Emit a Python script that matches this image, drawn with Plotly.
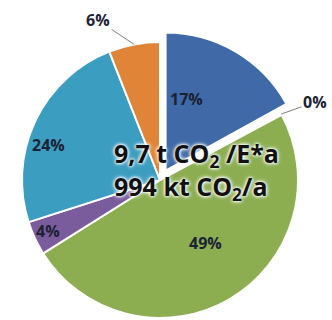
import math
import plotly.graph_objects as go

# ---- data ----
labels = ["Sektor 1", "Sektor 2", "Sektor 3", "Sektor 4", "Sektor 5", "Sektor 6"]
values = [17, 0.2, 49, 4, 24, 6]
colors = ["#3f6aa7", "#c0504d", "#8cae51", "#7a5c9c", "#3b9dc0", "#e08538"]
center_lines = ["9,7 t CO<sub>2</sub> /E*a", "994 kt CO<sub>2</sub>/a"]

# ---- layout constants ----
W, H = 332, 320
CX, CY, R = 160, 180, 138
PULL_PX = 11
pulled = 0                 # index of exploded slice
# inside label placement: index -> (angle shift in degrees, radius fraction)
inside = {0: (-14.5, 0.54), 2: (-5.5, 0.56), 3: (0.5, 0.89), 4: (-8, 0.85)}
# outside labels: index -> text offset (px) from slice edge
outside = {5: (-36, -24), 1: (34, -12)}
LABEL_COLOR = "#1b2233"
FONT = "Open Sans"

total = sum(values)
transparent = "rgba(0,0,0,0)"


def dom(cx, cy):
    return dict(x=[(cx - R) / W, (cx + R) / W], y=[1 - (cy + R) / H, 1 - (cy - R) / H])


def mid_angle(i):
    start = sum(values[:i]) / total * 360
    return math.radians(start + values[i] / total * 180)


def pct(i):
    return f"{round(values[i] / total * 100)}%"


t1_colors = [transparent if i == pulled else c for i, c in enumerate(colors)]
t2_colors = [c if i == pulled else transparent for i, c in enumerate(colors)]
t2_lw = [2 if i == pulled else 0 for i in range(len(values))]

a = mid_angle(pulled)
pcx = CX + PULL_PX * math.sin(a)
pcy = CY - PULL_PX * math.cos(a)

common = dict(labels=labels, values=values, sort=False, direction="clockwise", rotation=0,
              textinfo="none", hoverinfo="label+percent", showlegend=False)

fig = go.Figure()
fig.add_trace(go.Pie(domain=dom(CX, CY),
                     marker=dict(colors=t1_colors, line=dict(color="white", width=2)), **common))
fig.add_trace(go.Pie(domain=dom(pcx, pcy),
                     marker=dict(colors=t2_colors, line=dict(color="white", width=t2_lw)), **common))

label_font = dict(family=FONT, size=16, color=LABEL_COLOR, weight="bold")
annotations = []
for i, (shift, frac) in inside.items():
    ang = mid_angle(i) + math.radians(shift)
    ccx, ccy = (pcx, pcy) if i == pulled else (CX, CY)
    px = ccx + frac * R * math.sin(ang)
    py = ccy - frac * R * math.cos(ang)
    annotations.append(dict(x=px / W, y=1 - py / H, xref="paper", yref="paper",
                            xanchor="center", yanchor="middle",
                            text=pct(i), showarrow=False, font=label_font))

for i, (ox, oy) in outside.items():
    ang = mid_angle(i)
    px = CX + R * math.sin(ang)
    py = CY - R * math.cos(ang)
    annotations.append(dict(
        x=px / W, y=1 - py / H, xref="paper", yref="paper",
        text=pct(i), showarrow=True, arrowhead=0,
        arrowwidth=1, arrowcolor="#7f7f7f", ax=ox, ay=oy, standoff=0, font=label_font))

annotations.append(dict(
    x=112 / W, y=1 - 171 / H, xref="paper", yref="paper", xanchor="left", yanchor="middle",
    align="left", showarrow=False, text="<br>".join(center_lines),
    font=dict(family=FONT, size=25, color="#111111", weight="bold",
              shadow="0 0 3px white, 0 0 3px white, 0 0 5px white")))

fig.update_layout(width=W, height=H, margin=dict(l=0, r=0, t=0, b=0),
                  paper_bgcolor="white", plot_bgcolor="white", annotations=annotations)

fig.write_html("out.html")
